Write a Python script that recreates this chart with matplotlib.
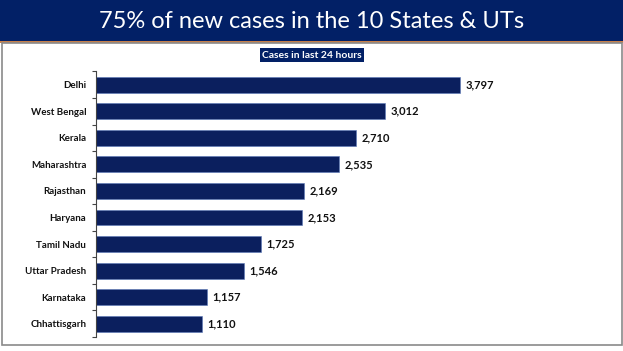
import matplotlib
matplotlib.use('Agg')
import matplotlib.pyplot as plt
from matplotlib.patches import Rectangle
from matplotlib.ticker import FixedLocator, NullLocator

states = ['Delhi', 'West Bengal', 'Kerala', 'Maharashtra', 'Rajasthan',
          'Haryana', 'Tamil Nadu', 'Uttar Pradesh', 'Karnataka', 'Chhattisgarh']
cases = [3797, 3012, 2710, 2535, 2169, 2153, 1725, 1546, 1157, 1110]

title = '75% of new cases in the 10 States & UTs'
subtitle = 'Cases in last 24 hours'

navy = '#0b1f5e'
band = '#022066'

W, H = 623, 351
fig = plt.figure(figsize=(W/100, H/100), dpi=100)
fig.patch.set_facecolor('white')

# header band + orange rule + grey frame
fig.add_artist(Rectangle((0, (H-41)/H), 1, 41/H, transform=fig.transFigure,
                         facecolor=band, edgecolor='none'))
fig.add_artist(Rectangle((0, (H-42.5)/H), 1, 1.5/H, transform=fig.transFigure,
                         facecolor='#c8804a', edgecolor='none'))
fig.add_artist(Rectangle((2.5/W, (H-345)/H), 619/W, 302.5/H, transform=fig.transFigure,
                         facecolor='none', edgecolor='#8a8a8a', linewidth=1.2))

fig.text(0.5, (H-21)/H, title, color='white', fontsize=17, family='Lato',
         ha='center', va='center')
fig.text(312/W, (H-55)/H, subtitle, color='white', fontsize=7.5, family='Lato',
         fontweight='bold', ha='center', va='center',
         bbox=dict(boxstyle='square,pad=0.25', facecolor=band, edgecolor='none'))

ax = fig.add_axes([96/W, (H-337)/H, 431.5/W, 265.5/H])
y = list(range(len(states)))
ax.barh(y, cases, height=0.6, color=navy, edgecolor='#5a78b8', linewidth=0.4)
ax.set_ylim(len(states)-0.5, -0.5)
ax.set_xlim(0, 4500)

for yi, v in zip(y, cases):
    ax.text(v + 55, yi, f'{v:,}', va='center', ha='left', fontsize=8,
            fontweight='bold', family='Lato', color='#111111')

ax.set_yticks(y)
ax.set_yticklabels(states, fontsize=7, fontweight='bold', family='Lato', color='#111111')
ax.tick_params(axis='y', which='major', length=0, pad=7)
ax.yaxis.set_minor_locator(FixedLocator([i - 0.5 for i in range(len(states)+1)]))
ax.tick_params(axis='y', which='minor', length=3, width=0.8, color='#444444')
ax.xaxis.set_major_locator(NullLocator())
for s in ['top', 'right', 'bottom']:
    ax.spines[s].set_visible(False)
ax.spines['left'].set_color('#444444')
ax.spines['left'].set_linewidth(0.8)

fig.savefig('out.png', dpi=100)
